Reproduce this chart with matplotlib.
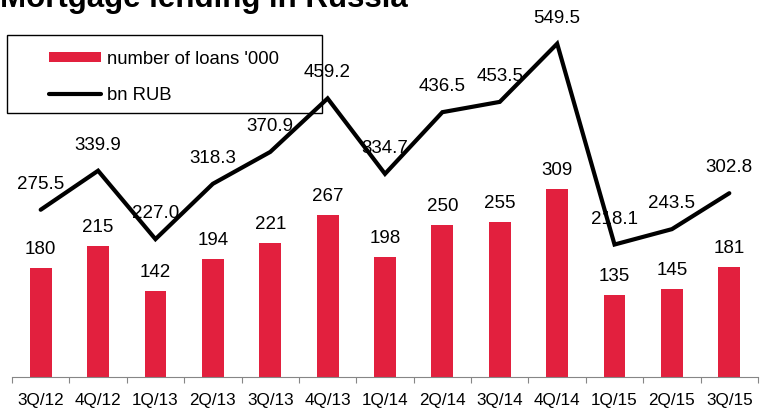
import matplotlib
matplotlib.use("Agg")
import matplotlib.pyplot as plt
from matplotlib.lines import Line2D
from matplotlib.patches import Rectangle
import numpy as np

plt.rcParams['font.family'] = ['Liberation Sans', 'DejaVu Sans']

quarters = ["3Q/12", "4Q/12", "1Q/13", "2Q/13", "3Q/13", "4Q/13", "1Q/14",
            "2Q/14", "3Q/14", "4Q/14", "1Q/15", "2Q/15", "3Q/15"]
loans = [180, 215, 142, 194, 221, 267, 198, 250, 255, 309, 135, 145, 181]  # '000
volume = [275.5, 339.9, 227.0, 318.3, 370.9, 459.2, 334.7, 436.5, 453.5,
          549.5, 218.1, 243.5, 302.8]  # bn RUB

RED = '#E2203E'
GREY = '#868686'
W, H = 771, 411

fig = plt.figure(figsize=(W / 100, H / 100), dpi=100)
ax = fig.add_axes([12 / W, (H - 376.7) / H, 746 / W, 376.7 / H])

x = np.arange(len(quarters))
ax.bar(x, loans, width=0.38, color=RED, zorder=2)
ax.plot(x, volume, color='black', lw=3, solid_joinstyle='miter',
        solid_capstyle='round', zorder=3)

for xi, v in zip(x, loans):
    ax.annotate(f"{v}", (xi, v), xytext=(0, 14), textcoords='offset pixels',
                ha='center', va='baseline', fontsize=13.5, zorder=4)
for xi, v in zip(x, volume):
    ax.annotate(f"{v:.1f}", (xi, v), xytext=(0, 21), textcoords='offset pixels',
                ha='center', va='baseline', fontsize=13.5, zorder=4)

ax.set_xlim(-0.5, len(quarters) - 0.5)
ax.set_ylim(0, 376.7 / 0.606)
for side in ('top', 'right', 'left'):
    ax.spines[side].set_visible(False)
ax.spines['bottom'].set_color(GREY)
ax.spines['bottom'].set_linewidth(0.8)
ax.set_yticks([])
ax.set_xticks(x)
ax.set_xticklabels(quarters)
ax.set_xticks(np.arange(len(quarters) + 1) - 0.5, minor=True)
ax.tick_params(axis='x', which='major', length=0, pad=12, labelsize=12.3)
ax.tick_params(axis='x', which='minor', length=4.3, width=0.8, color=GREY)

# legend with its own frame
handles = [Line2D([], [], color=RED, lw=7.2, solid_capstyle='butt'),
           Line2D([], [], color='black', lw=3, solid_capstyle='round')]
ax.legend(handles, ["number of loans '000", "bn RUB"], loc='upper left',
          bbox_to_anchor=(49 / W, 1 - 50.5 / H), bbox_transform=fig.transFigure,
          frameon=False, borderpad=0, borderaxespad=0, fontsize=13.3,
          handlelength=2.8, handletextpad=0.36, labelspacing=1.07)
fig.add_artist(Rectangle((7.3 / W, 1 - 113.3 / H), 314.4 / W, 78.3 / H,
                         transform=fig.transFigure, fill=False,
                         edgecolor='black', lw=1))

fig.text(0, 1 - 7 / H, "Mortgage lending in Russia", fontsize=22.5,
         fontweight='bold', ha='left', va='baseline')

fig.savefig("out.png", dpi=100)
